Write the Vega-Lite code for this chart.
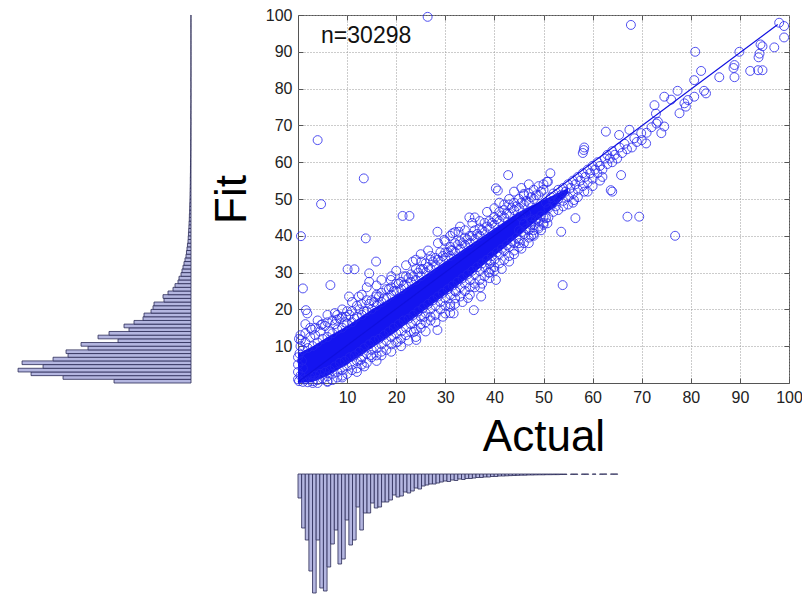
{
  "$schema": "https://vega.github.io/schema/vega-lite/v6.json",
  "padding": {"left": 17, "top": 6, "right": 0, "bottom": 0},
  "autosize": {"type": "pad"},
  "background": "white",
  "columns": 2,
  "spacing": {"column": 107, "row": 91},
  "bounds": "flush",
  "config": {"font": "Liberation Sans", "view": {"stroke": null}},
  "datasets": {
    "fitHist": [
      {"f0":0,"f1":1,"n":1001},{"f0":1,"f1":2,"n":1664},{"f0":2,"f1":3,"n":2080},{"f0":3,"f1":4,"n":2249},{"f0":4,"f1":5,"n":1924},
      {"f0":5,"f1":6,"n":2197},{"f0":6,"f1":7,"n":1794},{"f0":7,"f1":8,"n":1599},{"f0":8,"f1":9,"n":1625},{"f0":9,"f1":10,"n":1339},
      {"f0":10,"f1":11,"n":1430},{"f0":11,"f1":12,"n":949},{"f0":12,"f1":13,"n":1209},{"f0":13,"f1":14,"n":1066},{"f0":14,"f1":15,"n":806},
      {"f0":15,"f1":16,"n":871},{"f0":16,"f1":17,"n":741},{"f0":17,"f1":18,"n":624},{"f0":18,"f1":19,"n":611},{"f0":19,"f1":20,"n":520},
      {"f0":20,"f1":21,"n":494},{"f0":21,"f1":22,"n":481},{"f0":22,"f1":23,"n":351},{"f0":23,"f1":24,"n":364},{"f0":24,"f1":25,"n":299},
      {"f0":25,"f1":26,"n":234},{"f0":26,"f1":27,"n":208},{"f0":27,"f1":28,"n":169},{"f0":28,"f1":29,"n":156},{"f0":29,"f1":30,"n":130},
      {"f0":30,"f1":31,"n":117},{"f0":31,"f1":32,"n":104},{"f0":32,"f1":33,"n":91},{"f0":33,"f1":34,"n":78},{"f0":34,"f1":35,"n":65},
      {"f0":35,"f1":36,"n":59},{"f0":36,"f1":37,"n":52},{"f0":37,"f1":38,"n":46},{"f0":38,"f1":39,"n":39},{"f0":39,"f1":40,"n":36},
      {"f0":40,"f1":41,"n":33},{"f0":41,"f1":42,"n":30},{"f0":42,"f1":43,"n":27},{"f0":43,"f1":44,"n":25},{"f0":44,"f1":45,"n":22},
      {"f0":45,"f1":46,"n":21},{"f0":46,"f1":47,"n":18},{"f0":47,"f1":48,"n":17},{"f0":48,"f1":49,"n":16},{"f0":49,"f1":50,"n":14},
      {"f0":50,"f1":51,"n":13},{"f0":51,"f1":52,"n":12},{"f0":52,"f1":53,"n":11},{"f0":53,"f1":54,"n":10},{"f0":54,"f1":55,"n":9},
      {"f0":55,"f1":56,"n":9},{"f0":56,"f1":57,"n":8},{"f0":57,"f1":58,"n":7},{"f0":58,"f1":59,"n":7},{"f0":59,"f1":60,"n":6},
      {"f0":60,"f1":61,"n":6},{"f0":61,"f1":62,"n":5},{"f0":62,"f1":63,"n":5},{"f0":63,"f1":64,"n":4},{"f0":64,"f1":65,"n":4},
      {"f0":65,"f1":66,"n":4},{"f0":66,"f1":67,"n":3},{"f0":67,"f1":68,"n":3},{"f0":68,"f1":69,"n":3},{"f0":69,"f1":70,"n":3},
      {"f0":70,"f1":71,"n":2},{"f0":71,"f1":72,"n":2},{"f0":72,"f1":73,"n":3},{"f0":73,"f1":74,"n":2},{"f0":74,"f1":75,"n":2},
      {"f0":75,"f1":76,"n":2},{"f0":76,"f1":77,"n":1},{"f0":77,"f1":78,"n":2},{"f0":78,"f1":79,"n":1},{"f0":79,"f1":80,"n":2},
      {"f0":80,"f1":81,"n":1},{"f0":81,"f1":82,"n":1},{"f0":82,"f1":83,"n":2},{"f0":83,"f1":84,"n":1},{"f0":84,"f1":85,"n":1},
      {"f0":85,"f1":86,"n":1},{"f0":86,"f1":87,"n":1},{"f0":87,"f1":88,"n":1},{"f0":88,"f1":89,"n":1},{"f0":89,"f1":90,"n":1},
      {"f0":90,"f1":91,"n":1},{"f0":91,"f1":92,"n":1},{"f0":92,"f1":93,"n":1},{"f0":93,"f1":94,"n":1},{"f0":94,"f1":95,"n":1},
      {"f0":95,"f1":96,"n":1},{"f0":96,"f1":97,"n":1},{"f0":97,"f1":98,"n":1},{"f0":98,"f1":99,"n":1},{"f0":99,"f1":100,"n":1}
    ],
    "actHist": [
      {"b0":0,"b1":0.74,"n":384},{"b0":0.74,"b1":1.48,"n":864},{"b0":1.48,"b1":2.22,"n":1056},{"b0":2.22,"b1":2.96,"n":1552},
      {"b0":2.96,"b1":3.7,"n":1904},{"b0":3.7,"b1":4.44,"n":1056},{"b0":4.44,"b1":5.18,"n":1824},{"b0":5.18,"b1":5.92,"n":1872},
      {"b0":5.92,"b1":6.66,"n":1488},{"b0":6.66,"b1":7.4,"n":1120},{"b0":7.4,"b1":8.14,"n":896},{"b0":8.14,"b1":8.88,"n":1440},
      {"b0":8.88,"b1":9.62,"n":1360},{"b0":9.62,"b1":10.36,"n":736},{"b0":10.36,"b1":11.1,"n":1136},{"b0":11.1,"b1":11.84,"n":1056},
      {"b0":11.84,"b1":12.58,"n":528},{"b0":12.58,"b1":13.32,"n":896},{"b0":13.32,"b1":14.06,"n":624},{"b0":14.06,"b1":14.8,"n":624},
      {"b0":14.8,"b1":15.54,"n":464},{"b0":15.54,"b1":16.28,"n":544},{"b0":16.28,"b1":17.02,"n":528},{"b0":17.02,"b1":17.76,"n":448},
      {"b0":17.76,"b1":18.5,"n":448},{"b0":18.5,"b1":19.24,"n":416},{"b0":19.24,"b1":19.98,"n":336},{"b0":19.98,"b1":20.72,"n":368},
      {"b0":20.72,"b1":21.46,"n":352},{"b0":21.46,"b1":22.2,"n":288},{"b0":22.2,"b1":22.94,"n":304},{"b0":22.94,"b1":23.68,"n":272},
      {"b0":23.68,"b1":24.42,"n":224},{"b0":24.42,"b1":25.16,"n":240},{"b0":25.16,"b1":25.9,"n":192},{"b0":25.9,"b1":26.64,"n":176},
      {"b0":26.64,"b1":27.38,"n":160},{"b0":27.38,"b1":28.12,"n":160},{"b0":28.12,"b1":28.86,"n":144},{"b0":28.86,"b1":29.6,"n":128},
      {"b0":29.6,"b1":30.34,"n":112},{"b0":30.34,"b1":31.08,"n":120},{"b0":31.08,"b1":31.82,"n":96},{"b0":31.82,"b1":32.56,"n":104},
      {"b0":32.56,"b1":33.3,"n":80},{"b0":33.3,"b1":34.04,"n":88},{"b0":34.04,"b1":34.78,"n":72},{"b0":34.78,"b1":35.52,"n":72},
      {"b0":35.52,"b1":36.26,"n":64},{"b0":36.26,"b1":37,"n":56},{"b0":37,"b1":37.74,"n":56},{"b0":37.74,"b1":38.48,"n":48},
      {"b0":38.48,"b1":39.22,"n":48},{"b0":39.22,"b1":39.96,"n":40},{"b0":39.96,"b1":40.7,"n":40},{"b0":40.7,"b1":41.44,"n":32},
      {"b0":41.44,"b1":42.18,"n":32},{"b0":42.18,"b1":42.92,"n":29},{"b0":42.92,"b1":43.66,"n":26},{"b0":43.66,"b1":44.4,"n":24},
      {"b0":44.4,"b1":45.14,"n":22},{"b0":45.14,"b1":45.88,"n":19},{"b0":45.88,"b1":46.62,"n":19},{"b0":46.62,"b1":47.36,"n":16},
      {"b0":47.36,"b1":48.1,"n":16},{"b0":48.1,"b1":48.84,"n":14},{"b0":48.84,"b1":49.58,"n":13},{"b0":49.58,"b1":50.32,"n":13},
      {"b0":50.32,"b1":51.06,"n":11},{"b0":51.06,"b1":51.8,"n":11},{"b0":51.8,"b1":52.54,"n":10},{"b0":52.54,"b1":53.28,"n":10},
      {"b0":53.28,"b1":54.02,"n":8},{"b0":54.02,"b1":54.76,"n":8},{"b0":55.5,"b1":56.24,"n":6},{"b0":56.24,"b1":56.98,"n":6},
      {"b0":57.72,"b1":58.46,"n":5},{"b0":58.46,"b1":59.2,"n":5},{"b0":59.94,"b1":60.68,"n":4},{"b0":61.42,"b1":62.16,"n":4},
      {"b0":62.16,"b1":62.9,"n":3},{"b0":63.64,"b1":64.38,"n":3},{"b0":64.38,"b1":65.12,"n":3}
    ],
    "band": [
      {"a":0,"lo":0,"hi":8},{"a":3,"lo":0.3,"hi":10},{"a":6,"lo":2,"hi":12.5},{"a":10,"lo":5,"hi":15.5},
      {"a":15,"lo":9.5,"hi":20},{"a":20,"lo":14,"hi":24},{"a":25,"lo":19,"hi":28.5},{"a":30,"lo":24,"hi":33},
      {"a":35,"lo":29,"hi":37.5},{"a":40,"lo":34.5,"hi":42},{"a":45,"lo":40,"hi":46.5},{"a":48,"lo":43.5,"hi":48.5},
      {"a":52,"lo":47.5,"hi":51},{"a":55,"lo":51.5,"hi":53}
    ],
    "pts": [
      {"a":0,"f":1},{"a":0,"f":3},{"a":0,"f":5},{"a":0,"f":7},{"a":0.2,"f":0.5},{"a":0.5,"f":2},{"a":1,"f":4},{"a":0.8,"f":6},
      {"a":0.3,"f":8},{"a":0.5,"f":10},{"a":0.2,"f":12},{"a":1,"f":9},{"a":1.5,"f":11},{"a":2,"f":9.5},{"a":2.5,"f":12.5},{"a":3,"f":10},
      {"a":3.5,"f":13},{"a":4,"f":11},{"a":4.5,"f":14},{"a":5,"f":12},{"a":5.5,"f":15.5},{"a":6,"f":12.5},{"a":6.5,"f":14},{"a":7,"f":13.5},
      {"a":7.5,"f":16},{"a":8,"f":14.5},{"a":8.5,"f":17.5},{"a":9,"f":15},{"a":9.5,"f":16.5},{"a":10,"f":16},{"a":10.5,"f":18.5},{"a":11,"f":16.5},
      {"a":11.5,"f":17.5},{"a":12,"f":18},{"a":12.5,"f":20},{"a":13,"f":18.5},{"a":13.5,"f":19.5},{"a":14,"f":19.5},{"a":14.5,"f":21.5},{"a":15,"f":20},
      {"a":15.5,"f":22},{"a":16,"f":21},{"a":16.5,"f":23.5},{"a":17,"f":22},{"a":17.5,"f":23},{"a":18,"f":23},{"a":18.5,"f":25.5},{"a":19,"f":24},
      {"a":19.5,"f":25},{"a":20,"f":25},{"a":20.5,"f":27},{"a":21,"f":25.5},{"a":21.5,"f":26.5},{"a":22,"f":26.5},{"a":22.5,"f":28.5},{"a":23,"f":27.5},
      {"a":23.5,"f":29},{"a":24,"f":28},{"a":24.5,"f":30},{"a":25,"f":29},{"a":25.5,"f":31},{"a":26,"f":30},{"a":26.5,"f":31.5},{"a":27,"f":31},
      {"a":27.5,"f":33},{"a":28,"f":32},{"a":28.5,"f":33.5},{"a":29,"f":33},{"a":29.5,"f":34.5},{"a":30,"f":34},{"a":30.5,"f":35.5},{"a":31,"f":34.5},
      {"a":31.5,"f":36},{"a":32,"f":35.5},{"a":32.5,"f":37.5},{"a":33,"f":36.5},{"a":33.5,"f":38},{"a":34,"f":37.5},{"a":34.5,"f":39},{"a":35,"f":38},
      {"a":35.5,"f":40},{"a":36,"f":39},{"a":36.5,"f":40.5},{"a":37,"f":40},{"a":37.5,"f":41.5},{"a":38,"f":41},{"a":38.5,"f":42.5},{"a":39,"f":42},
      {"a":39.5,"f":43.5},{"a":40,"f":43},{"a":40.5,"f":44.5},{"a":41,"f":44},{"a":41.5,"f":45.5},{"a":42,"f":45},{"a":42.5,"f":46},{"a":43,"f":46},
      {"a":43.5,"f":47.5},{"a":44,"f":47},{"a":44.5,"f":48},{"a":45,"f":47.5},{"a":45.5,"f":49},{"a":46,"f":48.5},{"a":46.5,"f":49.5},{"a":47,"f":49},
      {"a":47.5,"f":50.5},{"a":48,"f":50},{"a":48.5,"f":51},{"a":49,"f":51},{"a":49.5,"f":52},{"a":50,"f":52.5},
      {"a":0.5,"f":13},{"a":1.5,"f":13.5},{"a":2.5,"f":15},{"a":3.5,"f":15},{"a":5,"f":16},{"a":6,"f":16.5},{"a":7,"f":17},{"a":8,"f":18.5},
      {"a":9,"f":18},{"a":10,"f":19.5},{"a":11,"f":19.5},{"a":12,"f":21},{"a":13,"f":21.5},{"a":14,"f":22.5},{"a":15,"f":22.5},{"a":16,"f":24},
      {"a":17,"f":24.5},{"a":18,"f":25.5},{"a":19,"f":26},{"a":20,"f":27},{"a":21,"f":27.5},{"a":22,"f":29},{"a":23,"f":29.5},{"a":24,"f":31},
      {"a":25,"f":31},{"a":26,"f":32.5},{"a":27,"f":33.5},{"a":28,"f":34},{"a":29,"f":35.5},{"a":30,"f":35.5},{"a":31,"f":37},{"a":32,"f":38},
      {"a":33,"f":38.5},{"a":34,"f":39.5},{"a":35,"f":40},{"a":36,"f":41.5},{"a":37,"f":42},{"a":38,"f":43.5},{"a":39,"f":44},{"a":40,"f":45},
      {"a":41,"f":46.5},{"a":42,"f":47},{"a":43,"f":48.5},{"a":44,"f":49},{"a":45,"f":50},{"a":46,"f":51},{"a":47,"f":51.5},{"a":48,"f":52.5},
      {"a":49,"f":53.5},{"a":50,"f":54},
      {"a":4,"f":0},{"a":6,"f":0.3},{"a":7,"f":0.8},{"a":8,"f":1.5},{"a":9,"f":2},{"a":10,"f":2.5},{"a":11,"f":3.5},{"a":12,"f":4},
      {"a":13,"f":5},{"a":14,"f":5.5},{"a":15,"f":7},{"a":16,"f":7.5},{"a":17,"f":8.5},{"a":18,"f":9},{"a":19,"f":10.5},{"a":20,"f":11},
      {"a":21,"f":12},{"a":22,"f":13},{"a":23,"f":14},{"a":24,"f":14.5},{"a":25,"f":16},{"a":26,"f":16.5},{"a":27,"f":18},{"a":28,"f":18.5},
      {"a":29,"f":20},{"a":30,"f":21},{"a":31,"f":21.5},{"a":32,"f":23},{"a":33,"f":23.5},{"a":34,"f":25},{"a":35,"f":26},{"a":36,"f":27},
      {"a":37,"f":28},{"a":38,"f":29},{"a":39,"f":30},{"a":40,"f":31.5},{"a":41,"f":32.5},{"a":42,"f":33.5},{"a":43,"f":34.5},{"a":44,"f":36},
      {"a":45,"f":37},{"a":46,"f":38},{"a":47,"f":39.5},{"a":48,"f":40.5},{"a":49,"f":42},{"a":50,"f":43},
      {"a":1,"f":0.3},{"a":2,"f":0.2},{"a":3,"f":0.5},{"a":4,"f":0.8},{"a":5,"f":1.2},{"a":6,"f":1.8},{"a":7,"f":2.5},{"a":8,"f":3},
      {"a":9,"f":3.5},{"a":10,"f":4.5},{"a":11,"f":5},{"a":12,"f":6},{"a":13,"f":7},{"a":14,"f":8},{"a":15,"f":9},{"a":16,"f":9.5},
      {"a":17,"f":10.5},{"a":18,"f":11.5},{"a":19,"f":12.5},{"a":20,"f":13.5},{"a":21,"f":14},{"a":22,"f":15},{"a":23,"f":16},{"a":24,"f":17},
      {"a":25,"f":18},{"a":26,"f":19},{"a":27,"f":20},{"a":28,"f":21},{"a":29,"f":22},{"a":30,"f":23},{"a":31,"f":24},{"a":32,"f":25},
      {"a":33,"f":26},{"a":34,"f":27},{"a":35,"f":28},{"a":36,"f":29.5},{"a":37,"f":30.5},{"a":38,"f":31.5},{"a":39,"f":32.5},{"a":40,"f":33.5},
      {"a":41,"f":35},{"a":42,"f":36},{"a":43,"f":37},{"a":44,"f":38},{"a":45,"f":39},{"a":46,"f":40.5},{"a":47,"f":41.5},{"a":48,"f":43},
      {"a":49,"f":44},{"a":50,"f":45},
      {"a":1.5,"f":1},{"a":2.5,"f":1.5},{"a":3.5,"f":2},{"a":4.5,"f":2.5},{"a":5.5,"f":3},{"a":6.5,"f":3.5},{"a":7.5,"f":4.5},{"a":8.5,"f":5.5},
      {"a":9.5,"f":6},{"a":10.5,"f":7},{"a":11.5,"f":7.5},{"a":12.5,"f":8.5},{"a":13.5,"f":9.5},{"a":14.5,"f":10.5},{"a":15.5,"f":11.5},{"a":16.5,"f":12},
      {"a":17.5,"f":13},{"a":18.5,"f":14},{"a":19.5,"f":15},{"a":20.5,"f":16},{"a":21.5,"f":17},{"a":22.5,"f":17.5},{"a":23.5,"f":18.5},{"a":24.5,"f":19.5},
      {"a":25.5,"f":20.5},{"a":26.5,"f":21.5},{"a":27.5,"f":22.5},{"a":28.5,"f":23.5},{"a":29.5,"f":24.5},{"a":30.5,"f":25.5},{"a":31.5,"f":26.5},{"a":32.5,"f":27.5},
      {"a":33.5,"f":28.5},{"a":34.5,"f":29.5},{"a":35.5,"f":30.5},{"a":36.5,"f":31.5},{"a":37.5,"f":32.5},{"a":38.5,"f":33.5},{"a":39.5,"f":34.5},{"a":40.5,"f":35.5},
      {"a":41.5,"f":36.5},{"a":42.5,"f":37.5},{"a":43.5,"f":38.5},{"a":44.5,"f":39.5},{"a":45.5,"f":41},{"a":46.5,"f":42},{"a":47.5,"f":43},{"a":48.5,"f":44.5},
      {"a":49.5,"f":45.5},
      {"a":1.5,"f":16},{"a":2.8,"f":14.5},{"a":4,"f":17},{"a":6,"f":18.5},{"a":7.5,"f":19},{"a":9,"f":20},{"a":11,"f":22},{"a":13,"f":24},
      {"a":14,"f":26},{"a":16,"f":26.5},{"a":17,"f":28},{"a":19,"f":29},{"a":20,"f":30.5},{"a":21.5,"f":29},{"a":22,"f":32},{"a":24,"f":33.5},
      {"a":25,"f":35},{"a":26.5,"f":36},{"a":27,"f":34.5},{"a":28.5,"f":38},{"a":30,"f":38.5},{"a":31,"f":40},{"a":32,"f":41},{"a":33,"f":42.5},
      {"a":34,"f":41.5},{"a":35.5,"f":43.5},{"a":36,"f":45},{"a":37,"f":44},{"a":38.5,"f":46.5},{"a":40,"f":47.5},{"a":41,"f":49},{"a":42,"f":48.5},
      {"a":43,"f":50},{"a":44,"f":52},{"a":45.5,"f":53},{"a":47,"f":54},
      {"a":3,"f":0},{"a":6,"f":0.5},{"a":9,"f":1.5},{"a":12,"f":3},{"a":13.5,"f":4.5},{"a":16,"f":6},{"a":17,"f":7.5},{"a":19,"f":8.5},
      {"a":21,"f":10},{"a":22.5,"f":11.5},{"a":24,"f":12.5},{"a":25,"f":15},{"a":26,"f":14},{"a":27,"f":17},{"a":28,"f":16.5},{"a":29.5,"f":18},
      {"a":31,"f":19},{"a":32,"f":21.5},{"a":33.5,"f":22},{"a":35,"f":24},{"a":36,"f":26},{"a":37.5,"f":27},{"a":39,"f":28.5},{"a":40,"f":30.5},
      {"a":41.5,"f":31},{"a":43,"f":33},{"a":44,"f":35},{"a":45.5,"f":36.5},{"a":47,"f":38},{"a":48,"f":40},{"a":49.5,"f":41.5},
      {"a":50.5,"f":49},{"a":51,"f":47.5},{"a":51.5,"f":50.5},{"a":52,"f":49},{"a":52,"f":51.5},{"a":52.5,"f":48},{"a":53,"f":50},{"a":53,"f":52.5},
      {"a":53.5,"f":51},{"a":54,"f":53},{"a":54,"f":49.5},{"a":54.5,"f":52},{"a":55,"f":50.5},{"a":55,"f":54},{"a":55.5,"f":53},{"a":56,"f":51.5},
      {"a":56,"f":55},{"a":56.5,"f":54},{"a":57,"f":52.5},{"a":57,"f":56},{"a":57.5,"f":55},{"a":58,"f":53.5},{"a":58,"f":57},{"a":58.5,"f":56},
      {"a":59,"f":54.5},{"a":59,"f":58},{"a":59.5,"f":57},{"a":60,"f":55.5},{"a":60,"f":59},{"a":60.5,"f":58},{"a":61,"f":57},{"a":61,"f":60},
      {"a":61.5,"f":59},{"a":62,"f":58},{"a":62.5,"f":61},{"a":63,"f":59.5},{"a":63,"f":62},{"a":63.5,"f":61},{"a":64,"f":60},{"a":64,"f":63},
      {"a":64.5,"f":62},{"a":65,"f":61},{"a":65.5,"f":64},{"a":66,"f":62.5},{"a":66.5,"f":65},{"a":67,"f":63.5},{"a":68,"f":64},{"a":68.5,"f":66.5},
      {"a":69,"f":65.5},{"a":70,"f":66},{"a":71,"f":68},{"a":72,"f":69.5},{"a":73,"f":70.5},{"a":58,"f":62.5},{"a":58.3,"f":64},{"a":58.2,"f":63.3},
      {"a":62.7,"f":68.3},{"a":65.4,"f":67.4},{"a":67.5,"f":68.8},{"a":69.9,"f":67.9},{"a":70.9,"f":65.1},{"a":72.6,"f":75.5},{"a":72.9,"f":73.2},{"a":73.3,"f":71},
      {"a":74,"f":67.9},{"a":74.6,"f":69.7},{"a":74.6,"f":77.8},{"a":76,"f":77},{"a":77.3,"f":79.4},{"a":77.7,"f":73.3},{"a":78.7,"f":76},{"a":79,"f":75.1},
      {"a":79.4,"f":76.9},{"a":80.7,"f":77.8},{"a":80.7,"f":82.3},{"a":82.1,"f":84.8},{"a":82.7,"f":79.4},{"a":83.1,"f":78.7},{"a":80.9,"f":90},{"a":85.8,"f":83.1},
      {"a":88.9,"f":83.1},{"a":88.9,"f":86.4},{"a":88.7,"f":85.6},{"a":89.9,"f":90},{"a":92.1,"f":84.8},{"a":93.7,"f":85},{"a":94.6,"f":85},{"a":94,"f":89.5},
      {"a":94.6,"f":91.5},{"a":94.2,"f":92},{"a":93.8,"f":88.5},{"a":97,"f":91.2},{"a":98,"f":97.9},{"a":99,"f":97},{"a":99,"f":93.9},{"a":67.8,"f":97.3},
      {"a":56.5,"f":44.8},{"a":53.6,"f":41.1},{"a":50.5,"f":44.8},{"a":50.8,"f":43.4},{"a":53.9,"f":26.6},{"a":67.1,"f":45.2},{"a":69.5,"f":45.2},{"a":76.8,"f":40},
      {"a":63.7,"f":52.4},{"a":64,"f":52},{"a":58.3,"f":52},{"a":65.8,"f":56.5},{"a":50.9,"f":54.7},{"a":51.4,"f":57},{"a":56.2,"f":49.7},
      {"a":49,"f":42.5},{"a":50,"f":43.5},{"a":51,"f":45},{"a":52,"f":46.5},{"a":53,"f":47},{"a":54,"f":48},{"a":55,"f":48.5},{"a":56,"f":49},
      {"a":57,"f":50.5},{"a":59,"f":52},{"a":60,"f":53.5},{"a":62,"f":56},{"a":61.5,"f":55},{"a":46,"f":43.5},{"a":47.5,"f":44.5},{"a":45,"f":41.5},
      {"a":26.4,"f":99.5},{"a":4,"f":66},{"a":13.4,"f":55.6},{"a":40.3,"f":52.9},{"a":40.7,"f":52.3},{"a":42.8,"f":56.5},{"a":46,"f":51.4},{"a":50.7,"f":54.7},
      {"a":4.7,"f":48.6},{"a":0.6,"f":39.9},{"a":13.8,"f":39.3},{"a":21.3,"f":45.4},{"a":22.7,"f":45.4},{"a":34.9,"f":45},{"a":15.9,"f":33},{"a":10.1,"f":30.9},
      {"a":11.5,"f":30.9},{"a":1,"f":25.7},{"a":6.6,"f":26.6},{"a":1.6,"f":19.8},{"a":1.9,"f":18.9},{"a":10.4,"f":23.5},{"a":12.4,"f":23.5},{"a":14.5,"f":29.8},
      {"a":14.5,"f":27.5},{"a":15.9,"f":23.5},{"a":18.9,"f":28},{"a":23.4,"f":33},{"a":25.1,"f":33},{"a":28.4,"f":41.1},{"a":31.5,"f":40.7},{"a":32.7,"f":41.1},
      {"a":29.8,"f":38.9},{"a":31.2,"f":36.1},{"a":35.8,"f":19.8},{"a":28.4,"f":14.4},{"a":30,"f":18.9},{"a":31.7,"f":18.9},{"a":31,"f":20.7},{"a":34.6,"f":23.1},
      {"a":37.3,"f":23.5},{"a":37.1,"f":26},{"a":39.3,"f":33},{"a":40.3,"f":28},{"a":38.8,"f":30},{"a":39.3,"f":31},{"a":32.2,"f":24.8},{"a":23.6,"f":13.9},
      {"a":24.1,"f":11.7},{"a":20.3,"f":11.2},{"a":14.9,"f":7.6},{"a":12.8,"f":6.3},{"a":0.6,"f":11.7},{"a":4.7,"f":15.8},{"a":9.8,"f":18},{"a":7.9,"f":17.2},
      {"a":25.7,"f":18},{"a":45,"f":38},{"a":47.5,"f":40},{"a":48,"f":41.5},{"a":46.5,"f":46},{"a":47.5,"f":44},{"a":45.5,"f":45}
    ]
  },
  "concat": [
    {
      "width": 173,
      "height": 368,
      "view": {"stroke": null},
      "data": {"name": "fitHist"},
      "mark": {"type": "bar", "fill": "#b4b6e0", "stroke": "#2a2a55", "strokeWidth": 0.8},
      "encoding": {
        "y": {"field": "f0", "type": "quantitative", "scale": {"domain": [0, 100], "nice": false}, "axis": null},
        "y2": {"field": "f1"},
        "x": {"field": "n", "type": "quantitative", "scale": {"domain": [0, 2250], "reverse": true, "nice": false}, "axis": null},
        "x2": {"datum": 0}
      }
    },
    {
      "width": 491,
      "height": 368,
      "view": {"stroke": "#555555", "strokeWidth": 1},
      "resolve": {"axis": {"x": "independent", "y": "independent"}},
      "layer": [
        {
          "data": {"name": "band"},
          "mark": {"type": "area", "color": "#1414f0", "opacity": 1},
          "encoding": {
            "x": {"field": "a", "type": "quantitative", "scale": {"domain": [0, 100], "nice": false},
              "axis": {"title": "Actual", "orient": "bottom", "values": [10, 20, 30, 40, 50, 60, 70, 80, 90, 100],
                "grid": true, "gridColor": "#999999", "gridDash": [1, 2], "gridWidth": 1, "labelFlush": false,
                "domain": false, "tickSize": -5, "tickColor": "#555555", "labelPadding": 11,
                "labelFontSize": 16, "labelColor": "#222222", "labelFont": "Liberation Sans",
                "titleFontSize": 44, "titleFontWeight": "normal", "titleColor": "#000000", "titleFont": "Liberation Sans", "titlePadding": 10}},
            "y": {"field": "lo", "type": "quantitative", "scale": {"domain": [0, 100], "nice": false},
              "axis": {"title": "Fit", "orient": "left", "values": [10, 20, 30, 40, 50, 60, 70, 80, 90, 100],
                "grid": true, "gridColor": "#999999", "gridDash": [1, 2], "gridWidth": 1, "labelFlush": false,
                "domain": false, "tickSize": -5, "tickColor": "#555555", "labelPadding": 11,
                "labelFontSize": 16, "labelColor": "#222222", "labelFont": "Liberation Sans",
                "titleFontSize": 44, "titleFontWeight": "normal", "titleColor": "#000000", "titleFont": "Liberation Sans", "titlePadding": 11}},
            "y2": {"field": "hi"}
          }
        },
        {
          "data": {"name": "pts"},
          "mark": {"type": "point", "shape": "circle", "filled": false, "size": 80, "stroke": "#2424ee", "strokeWidth": 1, "opacity": 0.8},
          "encoding": {
            "x": {"field": "a", "type": "quantitative", "axis": null},
            "y": {"field": "f", "type": "quantitative", "axis": null}
          }
        },
        {
          "data": {"values": [{"a": 0, "f": 0.3}, {"a": 97.7, "f": 97.4}]},
          "mark": {"type": "line", "color": "#1010e0", "strokeWidth": 1.2},
          "encoding": {
            "x": {"field": "a", "type": "quantitative",
              "axis": {"orient": "top", "title": null, "labels": false, "grid": false, "domain": false,
                "values": [10, 20, 30, 40, 50, 60, 70, 80, 90], "tickSize": -5, "tickColor": "#555555"}},
            "y": {"field": "f", "type": "quantitative",
              "axis": {"orient": "right", "title": null, "labels": false, "grid": false, "domain": false,
                "values": [10, 20, 30, 40, 50, 60, 70, 80, 90], "tickSize": -5, "tickColor": "#555555"}}
          }
        },
        {
          "data": {"values": [{"a": 4.7, "f": 92.4, "label": "n=30298"}]},
          "mark": {"type": "text", "align": "left", "baseline": "alphabetic", "fontSize": 23, "font": "Liberation Sans", "color": "#111111"},
          "encoding": {
            "x": {"field": "a", "type": "quantitative", "axis": null},
            "y": {"field": "f", "type": "quantitative", "axis": null},
            "text": {"field": "label"}
          }
        }
      ]
    },
    {
      "width": 173,
      "height": 121,
      "view": {"stroke": null},
      "data": {"values": []},
      "mark": "point"
    },
    {
      "width": 491,
      "height": 121,
      "view": {"stroke": null},
      "data": {"name": "actHist"},
      "mark": {"type": "bar", "fill": "#b4b6e0", "stroke": "#2a2a55", "strokeWidth": 0.8},
      "encoding": {
        "x": {"field": "b0", "type": "quantitative", "scale": {"domain": [0, 100], "nice": false}, "axis": null},
        "x2": {"field": "b1"},
        "y": {"field": "n", "type": "quantitative", "scale": {"domain": [0, 1936], "reverse": true, "nice": false}, "axis": null},
        "y2": {"datum": 0}
      }
    }
  ]
}
